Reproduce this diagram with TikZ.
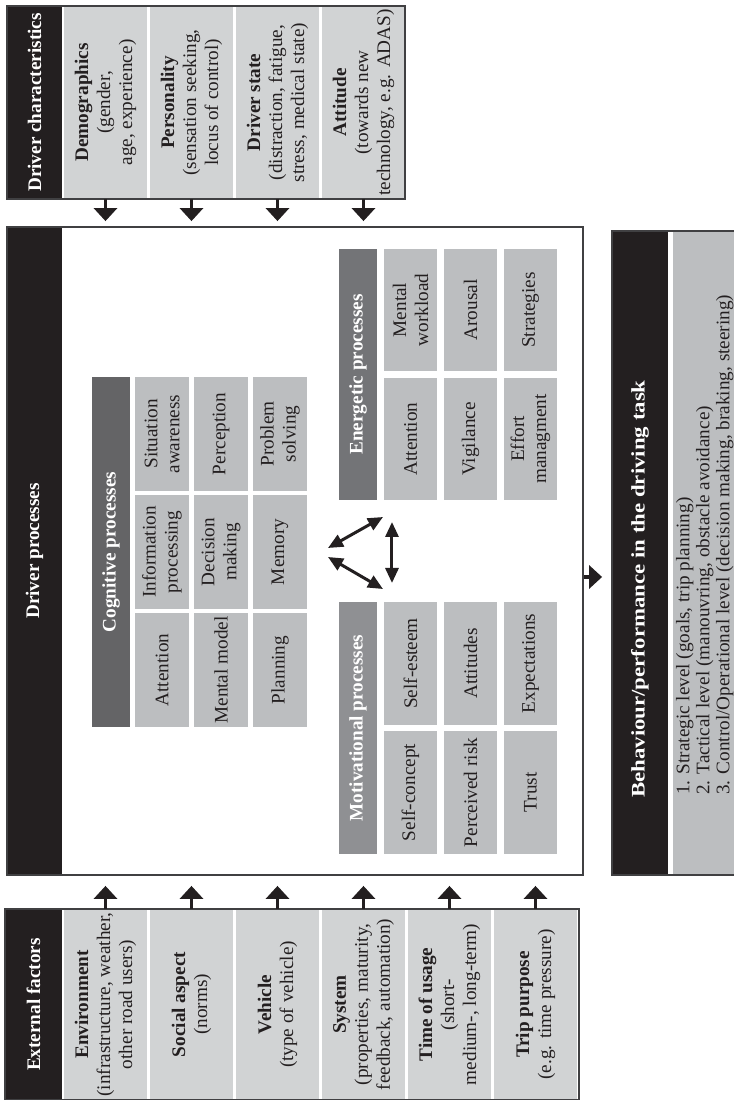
\documentclass[tikz,border=0pt]{standalone}
\usepackage{fontspec}
\setmainfont{Liberation Serif}
\usepackage{xcolor}
\usepackage{tikz}
\usetikzlibrary{arrows.meta}
\definecolor{ModelInk}{HTML}{231F20}
\definecolor{ModelEdge}{HTML}{404042}
\definecolor{ModelLight}{HTML}{D1D3D4}
\definecolor{ModelCell}{HTML}{BCBEC0}
\definecolor{CognitiveHead}{HTML}{646466}
\definecolor{EnergeticHead}{HTML}{737477}
\definecolor{MotivationalHead}{HTML}{8F9093}
\newcommand{\HeadLabel}{\fontsize{9.6}{11}\selectfont\bfseries}
\newcommand{\CellLabel}{\fontsize{9.6}{11}\selectfont}
\newcommand{\LevelLabel}{\fontsize{9.6}{10}\selectfont}
\tikzset{
  frame line/.style={draw=ModelEdge,line width=0.9pt},
  black head/.style={fill=ModelInk,text=white,font=\HeadLabel,inner sep=0pt},
  light cell/.style={fill=ModelLight,text=ModelInk,font=\CellLabel,align=center,inner sep=0pt},
  grey cell/.style={fill=ModelCell,text=ModelInk,font=\CellLabel,align=center,inner sep=0pt},
  group head/.style={text=white,font=\HeadLabel,inner sep=0pt},
  flow arrow/.style={draw=ModelInk,line width=1.6pt,-{Triangle[width=11.5pt,length=6.5pt]}},
  link arrow/.style={draw=ModelInk,line width=1.5pt,
    {Triangle[width=6.5pt,length=7.5pt]}-{Triangle[width=6.5pt,length=7.5pt]}}
}

\begin{document}
\begin{tikzpicture}[x=0.5pt,y=0.5pt,rotate=90,transform shape]
  % drawn in landscape, one unit per pixel, then turned a quarter
  \useasboundingbox (0,0) rectangle (1100,734);
  \clip (0,0) rectangle (1100,734);

  \def\celltop{670}
  \def\cellpitch{86}
  \def\cellh{83}

  \newcommand{\rectnode}[7]{%
    \node[#1,minimum width={((#5)-(#3))*0.5pt},minimum height={((#4)-(#6))*0.5pt}]
      (#2) at ({((#3)+(#5))/2},{((#4)+(#6))/2}) {#7};%
  }
  \newcommand{\factorcell}[5]{%
    \pgfmathsetmacro{\ct}{\celltop-\cellpitch*#2}%
    \rectnode{light cell}{#1}{#3}{\ct}{#4}{\ct-\cellh}{#5}%
  }

  % driver characteristics
  \rectnode{black head}{dchead}{901}{727}{1094}{672}{Driver characteristics}
  \factorcell{demo}{0}{901}{1094}{\textbf{Demographics}\\(gender,\\age, experience)}
  \factorcell{pers}{1}{901}{1094}{\textbf{Personality}\\(sensation seeking,\\locus of control)}
  \factorcell{dstate}{2}{901}{1094}{\textbf{Driver state}\\(distraction, fatigue,\\stress, medical state)}
  \factorcell{attitude}{3}{901}{1094}{\textbf{Attitude}\\(towards new\\technology, e.g. ADAS)}
  \rectnode{frame line}{dcbox}{901}{727}{1094}{329}{}

  % external factors
  \rectnode{black head}{efhead}{0}{729}{191}{672}{External factors}
  \factorcell{env}{0}{0}{191}{\textbf{Environment}\\(infrastructure, weather,\\other road users)}
  \factorcell{social}{1}{0}{191}{\textbf{Social aspect}\\(norms)}
  \factorcell{vehicle}{2}{0}{191}{\textbf{Vehicle}\\(type of vehicle)}
  \factorcell{system}{3}{0}{191}{\textbf{System}\\(properties, maturity,\\feedback, automation)}
  \factorcell{usage}{4}{0}{191}{\textbf{Time of usage}\\(short-\\medium-, long-term)}
  \factorcell{trip}{5}{0}{191}{\textbf{Trip purpose}\\(e.g. time pressure)}
  \rectnode{frame line}{efbox}{0}{729}{191}{155}{}

  % driver processes
  \rectnode{fill=white}{dpfill}{225}{727}{873}{151}{}
  \rectnode{black head}{dphead}{225}{727}{873}{672}{Driver processes}
  \rectnode{frame line}{dpbox}{225}{727}{873}{151}{}

  \rectnode{group head,fill=CognitiveHead}{coghead}{373}{642}{723}{604}{Cognitive processes}
  \rectnode{grey cell}{cogatt}{373}{599}{487}{545}{Attention}
  \rectnode{grey cell}{cogproc}{491}{599}{605}{545}{Information\\processing}
  \rectnode{grey cell}{cogsa}{609}{599}{723}{545}{Situation\\awareness}
  \rectnode{grey cell}{cogmm}{373}{540}{487}{486}{Mental model}
  \rectnode{grey cell}{cogdm}{491}{540}{605}{486}{Decision\\making}
  \rectnode{grey cell}{cogperc}{609}{540}{723}{486}{Perception}
  \rectnode{grey cell}{cogplan}{373}{481}{487}{427}{Planning}
  \rectnode{grey cell}{cogmem}{491}{481}{605}{427}{Memory}
  \rectnode{grey cell}{cogps}{609}{481}{723}{427}{Problem\\solving}

  \rectnode{group head,fill=MotivationalHead}{mothead}{246}{395}{498}{357}{Motivational processes}
  \rectnode{grey cell}{motsc}{246}{350}{369}{297}{Self-concept}
  \rectnode{grey cell}{motse}{375}{350}{498}{297}{Self-esteem}
  \rectnode{grey cell}{motrisk}{246}{290}{369}{237}{Perceived risk}
  \rectnode{grey cell}{motatt}{375}{290}{498}{237}{Attitudes}
  \rectnode{grey cell}{mottrust}{246}{230}{369}{177}{Trust}
  \rectnode{grey cell}{motexp}{375}{230}{498}{177}{Expectations}

  \rectnode{group head,fill=EnergeticHead}{enehead}{600}{395}{851}{357}{Energetic processes}
  \rectnode{grey cell}{eneatt}{600}{350}{722}{297}{Attention}
  \rectnode{grey cell}{enemw}{729}{350}{851}{297}{Mental\\workload}
  \rectnode{grey cell}{enevig}{600}{290}{722}{237}{Vigilance}
  \rectnode{grey cell}{enearo}{729}{290}{851}{237}{Arousal}
  \rectnode{grey cell}{eneeff}{600}{230}{722}{177}{Effort\\managment}
  \rectnode{grey cell}{enestr}{729}{230}{851}{177}{Strategies}

  % behaviour in the driving task
  \rectnode{black head}{bhvhead}{225}{122}{869}{66}{}
  \node[anchor=west,text=white,font=\HeadLabel,inner sep=0pt,xscale=1.19]
    (bhvtitle) at ([xshift=38.5pt]bhvhead.west) {Behaviour/performance in the driving task};
  \rectnode{grey cell}{bhvlist}{225}{61}{869}{-30}{}
  \node[anchor=north west,align=left,text=ModelInk,font=\LevelLabel,inner sep=0pt]
    (levels) at ([xshift=40pt,yshift=-1.5pt]bhvlist.north west)
    {1. Strategic level (goals, trip planning)\\
     2. Tactical level (manouvring, obstacle avoidance)\\
     3. Control/Operational level (decision making, braking, steering)};
  \rectnode{frame line}{bhvbox}{225}{122}{869}{-30}{}

  \foreach \n in {env,social,vehicle,system,usage,trip}
    \draw[flow arrow,shorten >=5pt] (\n.east) -- (\n.east -| dpbox.west);
  \foreach \n in {demo,pers,dstate,attitude}
    \draw[flow arrow,shorten >=2.5pt] (\n.west) -- (\n.west -| dpbox.east);
  \coordinate (bhvtap) at (523,140);
  \draw[flow arrow,shorten >=4.5pt] (bhvtap |- dpbox.south) -- (bhvtap |- bhvbox.north);

  \coordinate (cogleft) at (543,406);
  \coordinate (cogright) at (552,406);
  \coordinate (motcorner) at (511,351);
  \coordinate (enecorner) at (583,351);
  \coordinate (motside) at (517,342);
  \coordinate (eneside) at (578,342);
  \draw[link arrow] (cogleft) -- (motcorner);
  \draw[link arrow] (cogright) -- (enecorner);
  \draw[link arrow] (motside) -- (eneside);
\end{tikzpicture}
\end{document}
